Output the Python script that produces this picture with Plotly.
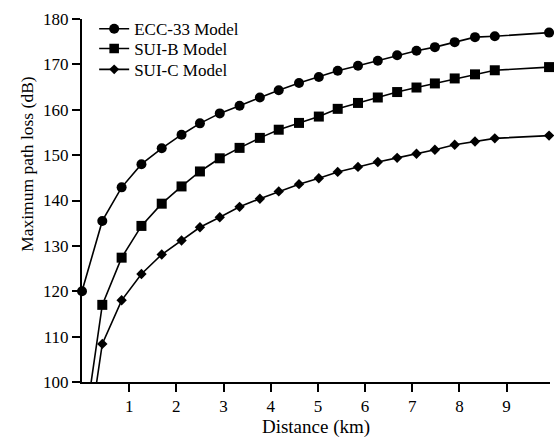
import plotly.graph_objects as go

distance_km = [0, 0.43, 0.84, 1.26, 1.69, 2.11, 2.50, 2.92, 3.34, 3.77, 4.17, 4.60,
               5.02, 5.42, 5.85, 6.27, 6.68, 7.09, 7.48, 7.90, 8.33, 8.75, 9.90]
ecc33 = [120.0, 135.5, 142.9, 148.0, 151.5, 154.5, 157.0, 159.2, 160.9, 162.7, 164.3, 165.9,
         167.2, 168.6, 169.7, 170.8, 172.0, 173.0, 173.8, 174.9, 176.0, 176.2, 177.0]
sui_b = [86.0, 117.0, 127.4, 134.4, 139.3, 143.1, 146.4, 149.3, 151.6, 153.8, 155.6, 157.1,
         158.5, 160.2, 161.5, 162.7, 163.9, 164.9, 165.8, 166.9, 167.8, 168.7, 169.4]
sui_c = [78.0, 108.4, 118.0, 123.8, 128.1, 131.2, 134.1, 136.3, 138.6, 140.4, 142.0, 143.6,
         144.9, 146.3, 147.4, 148.5, 149.4, 150.3, 151.2, 152.3, 153.0, 153.7, 154.3]
series_names = ["ECC-33 Model", "SUI-B Model", "SUI-C Model"]
x_ticks = [1, 2, 3, 4, 5, 6, 7, 8, 9]
y_ticks = [100, 110, 120, 130, 140, 150, 160, 170, 180]

FONT = "Liberation Serif, Times New Roman, serif"

def sizes(vals, s):
    # hide markers that lie below the visible range
    return [s if v >= 100 else 0 for v in vals]

fig = go.Figure()
specs = [(ecc33, "circle", 10, "legend"), (sui_b, "square", 10, "legend2"),
         (sui_c, "diamond", 8, "legend3")]
for name, (vals, sym, sz, lg) in zip(series_names, specs):
    fig.add_trace(go.Scatter(x=distance_km, y=vals, name=name, mode="lines+markers",
                             line=dict(color="black", width=1.6),
                             marker=dict(symbol=sym, size=sizes(vals, sz), color="black",
                                         opacity=1, line=dict(width=0)),
                             cliponaxis=False, legend=lg))

leg_common = dict(x=0.026, xanchor="left", yanchor="top", bgcolor="rgba(0,0,0,0)",
                  font=dict(size=17), itemwidth=30)

fig.update_layout(
    width=554, height=438,
    margin=dict(l=82, r=4, t=19, b=53),
    paper_bgcolor="white", plot_bgcolor="white",
    font=dict(family=FONT, size=17, color="black"),
    showlegend=True,
    legend=dict(y=1.0216, **leg_common),
    legend2=dict(y=0.967, **leg_common),
    legend3=dict(y=0.9096, **leg_common),
    xaxis=dict(range=[0, 9.92], tickvals=x_ticks, ticktext=[str(t) for t in x_ticks],
               showgrid=False, zeroline=False, showline=True, linecolor="black", linewidth=2,
               ticks="outside", ticklen=8, tickwidth=2, tickcolor="black",
               title=dict(text="Distance (km)", standoff=4, font=dict(size=19))),
    yaxis=dict(range=[100, 180], tickvals=y_ticks,
               showgrid=False, zeroline=False, showline=True, linecolor="black", linewidth=2,
               ticks="outside", ticklen=8, tickwidth=2, tickcolor="black"),
    annotations=[dict(text="Maximum path loss (dB)", textangle=-90, showarrow=False,
                      xref="paper", yref="paper", x=-0.1175, y=0.601,
                      xanchor="center", yanchor="middle", font=dict(size=17.5))],
)

fig.write_html("out.html")
